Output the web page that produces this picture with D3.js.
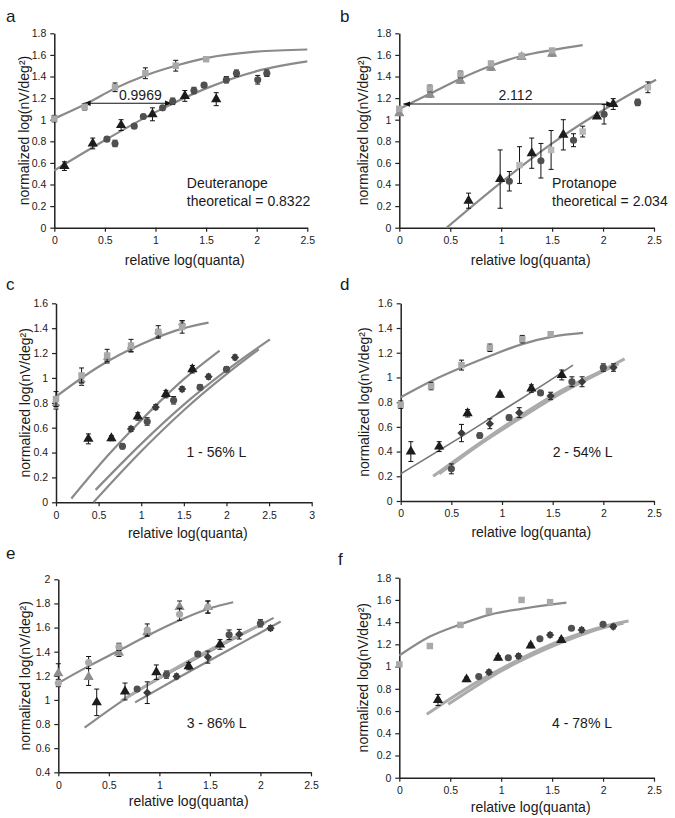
<!DOCTYPE html>
<html><head><meta charset="utf-8">
<script src="https://cdn.jsdelivr.net/npm/d3@7"></script>
<style>
body{margin:0;background:#fff}
svg{display:block}
text{font-family:"Liberation Sans",Arial,sans-serif;fill:#1a1a1a}
</style>
</head><body>
<svg id="chart" width="675" height="818"></svg>
<script>
// ---------------- DATA ----------------
const xTicks25 = [0, 0.5, 1, 1.5, 2, 2.5];
const xTicks3 = [0, 0.5, 1, 1.5, 2, 2.5, 3];
const yTicks18 = [0, 0.2, 0.4, 0.6, 0.8, 1, 1.2, 1.4, 1.6, 1.8];
const yTicks16 = [0, 0.2, 0.4, 0.6, 0.8, 1, 1.2, 1.4, 1.6];
const yTicksE = [0.4, 0.6, 0.8, 1, 1.2, 1.4, 1.6, 1.8, 2];
const panelLetters = ["a", "b", "c", "d", "e", "f"];
const xTitle = "relative log(quanta)";
const yTitle = "normalized log(nV/deg²)";
const noteLines = [["Deuteranope", "theoretical = 0.8322"], ["Protanope", "theoretical = 2.034"],
                   ["1 - 56% L"], ["2 - 54% L"], ["3 - 86% L"], ["4 - 78% L"]];
const arrowLabels = ["0.9969", "2.112"];

// panel a  [x, y, err]
const aCurveHi = [[0,1.01],[0.3,1.14],[0.6,1.29],[0.9,1.41],[1.2,1.50],[1.5,1.57],[2.0,1.63],[2.5,1.65]];
const aCurveLo = [[0,0.53],[0.5,0.81],[1.0,1.07],[1.5,1.29],[2.0,1.45],[2.5,1.54]];
const aSquares = [[0,1.01,0.03],[0.3,1.12,0.03],[0.6,1.30,0.04],[0.9,1.43,0.05],[1.2,1.50,0.05],[1.5,1.56,0.02]];
const aTriangles = [[0.1,0.57,0.04],[0.38,0.78,0.05],[0.66,0.95,0.05],[0.97,1.05,0.06],[1.29,1.22,0.05],[1.6,1.19,0.06]];
const aCircles = [[0.52,0.82,0.02],[0.6,0.78,0.03],[0.79,0.94,0.02],[0.88,1.03,0.02],[1.07,1.11,0.02],[1.17,1.17,0.03],
                  [1.38,1.27,0.03],[1.48,1.32,0.02],[1.7,1.37,0.03],[1.8,1.43,0.03],[2.01,1.37,0.04],[2.1,1.43,0.03]];
const aArrow = [[0.29,1.152],[1.163,1.152]];

// panel b
const bCurveHi = [[0,1.10],[0.3,1.24],[0.6,1.38],[0.9,1.50],[1.2,1.59],[1.5,1.645],[1.8,1.69]];
const bCurveLo = [[0.465,0],[1.0,0.42],[1.5,0.78],[2.1,1.145],[2.52,1.37]];
const bSquaresHi = [[0,1.10,0.02],[0.3,1.29,0.03],[0.6,1.42,0.03],[0.9,1.52,0.02],[1.2,1.59,0.02],[1.5,1.64,0.02]];
const bTrianglesHi = [[0,1.06,0.02],[0.3,1.23,0.02],[0.6,1.36,0.02],[0.9,1.48,0.02],[1.2,1.58,0.02],[1.5,1.61,0.02]];
const bTriangles = [[0.68,0.25,0.07],[0.99,0.45,0.27],[1.3,0.69,0.14],[1.61,0.86,0.14],[1.94,1.03,0.01],[2.1,1.145,0.05]];
const bCircles = [[1.08,0.43,0.09],[1.39,0.62,0.16],[1.71,0.81,0.06],[2.01,1.05,0.09],[2.34,1.16,0.03]];
const bSquaresLo = [[1.18,0.58,0.17],[1.49,0.72,0.18],[1.8,0.89,0.05],[2.44,1.30,0.05]];
const bArrow = [[0.04,1.145],[2.1,1.145]];

// panel c
const cCurveHi = [[0,0.85],[0.5,1.09],[1.0,1.27],[1.5,1.40],[1.79,1.445]];
const cLine1 = [[0.18,0.03],[0.6,0.37],[1.0,0.66],[1.5,0.99],[1.92,1.22]];
const cLine2 = [[0.465,0.10],[1.0,0.47],[1.5,0.785],[2.0,1.06],[2.51,1.31]];
const cLine3 = [[0.44,0.0],[1.0,0.41],[1.5,0.74],[2.0,1.03],[2.38,1.23]];
const cSquaresHi = [[0,0.83,0.06],[0.3,1.02,0.06],[0.6,1.18,0.05],[0.88,1.26,0.05],[1.2,1.37,0.05],[1.48,1.41,0.05]];
const cGrayHi = [[0,0.78,0.03],[0.3,0.97,0.03],[0.6,1.15,0.03],[0.88,1.24,0.03],[1.2,1.36,0.03],[1.48,1.43,0.03]];
const cTriangles = [[0.38,0.51,0.04],[0.65,0.515,0.02],[0.96,0.69,0.03],[1.29,0.87,0.03],[1.6,1.07,0.03]];
const cCircles = [[0.78,0.45,0.02],[1.07,0.65,0.03],[1.38,0.82,0.03],[1.69,0.925,0.02],[2.0,1.07,0.02]];
const cDiamonds = [[0.88,0.59,0.02],[1.17,0.765,0.02],[1.48,0.91,0.02],[1.79,1.01,0.02],[2.1,1.165,0.02]];

// panel d
const dCurveHi = [[0,0.84],[0.3,0.97],[0.6,1.08],[0.9,1.18],[1.2,1.27],[1.5,1.33],[1.8,1.36]];
const dLineA = [[0,0.22],[0.5,0.47],[1.0,0.73],[1.5,0.99],[1.7,1.10]];
const dLineB = [[0.32,0.20],[0.8,0.48],[1.2,0.70],[1.6,0.90],[2.0,1.06],[2.21,1.15]];
const dLineC = [[0.38,0.22],[0.8,0.47],[1.2,0.68],[1.6,0.88],[2.0,1.05],[2.15,1.11]];
const dSquaresHi = [[0,0.78,0.03],[0.3,0.93,0.03],[0.6,1.10,0.04],[0.88,1.24,0.03],[1.2,1.31,0.03],[1.48,1.35,0.02]];
const dTriangles = [[0.1,0.40,0.08],[0.38,0.44,0.04],[0.66,0.71,0.03],[0.98,0.86,0.02],[1.29,0.91,0.03],[1.59,1.02,0.04]];
const dCircles = [[0.5,0.26,0.04],[0.78,0.53,0.02],[1.07,0.675,0.02],[1.38,0.875,0.02],[1.69,0.965,0.04],[2.0,1.08,0.03]];
const dDiamonds = [[0.6,0.55,0.07],[0.88,0.625,0.04],[1.17,0.715,0.04],[1.48,0.85,0.03],[1.79,0.965,0.04],[2.1,1.08,0.03]];

// panel e
const eCurveHi = [[0,1.14],[0.3,1.28],[0.6,1.41],[0.9,1.54],[1.2,1.66],[1.5,1.76],[1.73,1.81]];
const eLine1 = [[0.26,0.77],[0.7,1.03],[1.2,1.27],[1.7,1.49],[2.13,1.68]];
const eLineG = [[0.62,0.99],[1.2,1.28],[1.7,1.50],[2.05,1.64]];
const eLine3 = [[0.76,0.98],[1.2,1.19],[1.7,1.42],[2.2,1.65]];
const eGrayHi1 = [[0,1.14,0.03],[0.3,1.31,0.05],[0.6,1.44,0.03],[0.88,1.58,0.05],[1.2,1.71,0.05],[1.48,1.77,0.05]];
const eGrayHi2 = [[0,1.22,0.08],[0.3,1.19,0.07],[0.6,1.39,0.03],[0.88,1.56,0.03],[1.2,1.77,0.05],[1.48,1.77,0.05]];
const eTriangles = [[0.38,0.98,0.11],[0.66,1.07,0.07],[0.97,1.23,0.06],[1.29,1.28,0.03],[1.6,1.46,0.04]];
const eCircles = [[0.78,1.09,0.01],[1.07,1.21,0.03],[1.38,1.38,0.02],[1.69,1.54,0.04],[2.0,1.635,0.03]];
const eDiamonds = [[0.88,1.06,0.09],[1.17,1.195,0.02],[1.48,1.355,0.05],[1.79,1.545,0.04],[2.1,1.595,0.02]];

// panel f
const fCurveHi = [[0,1.10],[0.3,1.27],[0.6,1.38],[0.9,1.47],[1.2,1.52],[1.5,1.56],[1.64,1.575]];
const fLineA = [[0.27,0.57],[0.5,0.71],[0.8,0.88],[1.0,0.98],[1.3,1.12],[1.6,1.24],[2.0,1.36],[2.25,1.41]];
const fLineB = [[0.48,0.66],[0.8,0.85],[1.0,0.96],[1.3,1.10],[1.6,1.22],[2.0,1.35],[2.2,1.39]];
const fSquaresHi = [[0,1.02,0],[0.3,1.185,0],[0.6,1.375,0],[0.88,1.50,0.02],[1.2,1.60,0.02],[1.48,1.58,0.02]];
const fTriangles = [[0.38,0.70,0.05],[0.66,0.885,0.02],[0.97,1.08,0.02],[1.29,1.19,0.02],[1.59,1.24,0.02]];
const fCircles = [[0.78,0.91,0],[1.07,1.08,0],[1.38,1.25,0],[1.69,1.345,0],[2.0,1.38,0]];
const fDiamonds = [[0.88,0.95,0.02],[1.17,1.095,0.02],[1.48,1.285,0.02],[1.79,1.33,0.02],[2.1,1.36,0.02]];

// ---------------- STYLE ----------------
const CURVE = "#8a8a8a", CURVE_LIGHT = "#ababab";
const LIGHT = "#a9a9a9", MID = "#8e8e8e", BLACK = "#1c1c1c", DARK = "#505050", DIAM = "#3c3c3c";
const SQ = {sym: d3.symbolSquare, size: 42}, TRI = {sym: d3.symbolTriangle, size: 46},
      CIR = {sym: d3.symbolCircle, size: 40}, DIA = {sym: d3.symbolSquare, size: 34, rot: 45};

const svg = d3.select("#chart");
const fmt = d => String(+d.toFixed(2));

defsArrow();
function defsArrow() {
  const defs = svg.append("defs");
  ["s", "e"].forEach(k => {
    defs.append("marker").attr("id", "ah-" + k)
      .attr("viewBox", "0 0 10 10").attr("refX", 10).attr("refY", 5)
      .attr("markerWidth", 7).attr("markerHeight", 7)
      .attr("orient", k === "s" ? "auto-start-reverse" : "auto")
      .attr("markerUnits", "userSpaceOnUse")
      .append("path").attr("d", "M0,1 L10,5 L0,9 Z").attr("fill", "#111");
  });
}

function panel(cfg) {
  const x = d3.scaleLinear().domain(cfg.xd).range(cfg.xr);
  const y = d3.scaleLinear().domain(cfg.yd).range(cfg.yr);
  const g = svg.append("g");

  // axes
  const ax = g.append("g").attr("transform", `translate(0,${cfg.yr[0]})`)
    .call(d3.axisBottom(x).tickValues(cfg.xt).tickFormat(fmt).tickSize(4).tickSizeOuter(0).tickPadding(5));
  const ay = g.append("g").attr("transform", `translate(${cfg.xr[0]},0)`)
    .call(d3.axisLeft(y).tickValues(cfg.yt).tickFormat(fmt).tickSize(4).tickSizeOuter(0).tickPadding(4));
  [ax, ay].forEach(a => {
    a.selectAll("text").attr("font-size", 10.5).attr("font-family", "Liberation Sans, Arial, sans-serif").attr("fill", "#222");
    a.select(".domain").attr("stroke", "#222").attr("stroke-width", 1.5);
    a.selectAll(".tick line").attr("stroke", "#222").attr("stroke-width", 1.2);
  });

  // titles
  g.append("text").attr("x", (cfg.xr[0] + cfg.xr[1]) / 2 + 4).attr("y", cfg.xTitleY)
    .attr("text-anchor", "middle").attr("font-size", 14).text(xTitle);
  g.append("text").attr("transform", `translate(${cfg.yTitleX},${(cfg.yr[0] + cfg.yr[1]) / 2}) rotate(-90)`)
    .attr("text-anchor", "middle").attr("font-size", 14).text(yTitle);
  g.append("text").attr("x", cfg.letter[0]).attr("y", cfg.letter[1]).attr("font-size", 17).text(cfg.letterText);

  // curves
  const line = d3.line().x(d => x(d[0])).y(d => y(d[1])).curve(d3.curveMonotoneX);
  cfg.curves.forEach(c => {
    g.append("path").attr("d", line(c.data)).attr("fill", "none")
      .attr("stroke", c.color || CURVE).attr("stroke-width", c.w || 2.2);
  });

  // arrow
  if (cfg.arrow) {
    g.append("line").attr("x1", x(cfg.arrow[0][0])).attr("x2", x(cfg.arrow[1][0]))
      .attr("y1", y(cfg.arrow[0][1])).attr("y2", y(cfg.arrow[1][1]))
      .attr("stroke", "#111").attr("stroke-width", 1.1)
      .attr("marker-start", "url(#ah-s)").attr("marker-end", "url(#ah-e)");
    g.append("text").attr("x", x(cfg.arrowLabel[0])).attr("y", y(cfg.arrowLabel[1]))
      .attr("text-anchor", "middle").attr("font-size", 14).text(cfg.arrowText);
  }

  // series
  cfg.series.forEach(s => {
    const sg = g.append("g");
    s.data.forEach(d => {
      if (d[2]) {
        const y1 = y(d[1] + d[2]), y2 = y(d[1] - d[2]), cx = x(d[0]);
        sg.append("path").attr("d", `M${cx},${y1}V${y2}M${cx - 2.5},${y1}H${cx + 2.5}M${cx - 2.5},${y2}H${cx + 2.5}`)
          .attr("stroke", "#111").attr("stroke-width", 1).attr("fill", "none");
      }
    });
    sg.selectAll("path.m").data(s.data).enter().append("path").attr("class", "m")
      .attr("transform", d => `translate(${x(d[0])},${y(d[1])})` + (s.m.rot ? ` rotate(${s.m.rot})` : ""))
      .attr("d", d3.symbol().type(s.m.sym).size(s.m.size))
      .attr("fill", s.fill);
  });

  // notes
  cfg.notes.forEach((t, i) => {
    g.append("text").attr("x", x(cfg.notePos[0])).attr("y", y(cfg.notePos[1]) + i * 18.5)
      .attr("font-size", 14).text(t);
  });
}

panel({ letterText: panelLetters[0], letter: [6, 22], xd: [0, 2.5], xr: [54.3, 307.3], yd: [0, 1.8], yr: [227.7, 33.3],
  xt: xTicks25, yt: yTicks18, xTitleY: 265, yTitleX: 29,
  curves: [{data: aCurveHi}, {data: aCurveLo}],
  series: [{data: aSquares, m: SQ, fill: LIGHT}, {data: aCircles, m: CIR, fill: DARK}, {data: aTriangles, m: TRI, fill: BLACK}],
  arrow: aArrow, arrowLabel: [0.85, 1.185], arrowText: arrowLabels[0],
  notes: noteLines[0], notePos: [1.31, 0.37] });

panel({ letterText: panelLetters[1], letter: [340, 22], xd: [0, 2.5], xr: [399.3, 654], yd: [0, 1.8], yr: [227.7, 33.3],
  xt: xTicks25, yt: yTicks18, xTitleY: 265, yTitleX: 368,
  curves: [{data: bCurveHi}, {data: bCurveLo}],
  series: [{data: bTrianglesHi, m: TRI, fill: MID}, {data: bSquaresHi, m: SQ, fill: LIGHT},
           {data: bSquaresLo, m: SQ, fill: "#b8b8b8"}, {data: bCircles, m: CIR, fill: DARK}, {data: bTriangles, m: TRI, fill: BLACK}],
  arrow: bArrow, arrowLabel: [1.14, 1.185], arrowText: arrowLabels[1],
  notes: noteLines[1], notePos: [1.50, 0.37] });

panel({ letterText: panelLetters[2], letter: [6, 290], xd: [0, 3], xr: [56, 311.7], yd: [0, 1.6], yr: [502.3, 303.3],
  xt: xTicks3, yt: yTicks16, xTitleY: 538, yTitleX: 30,
  curves: [{data: cCurveHi}, {data: cLine1}, {data: cLine2}, {data: cLine3}],
  series: [{data: cGrayHi, m: DIA, fill: MID}, {data: cSquaresHi, m: SQ, fill: LIGHT},
           {data: cCircles, m: CIR, fill: DARK}, {data: cDiamonds, m: DIA, fill: DIAM}, {data: cTriangles, m: TRI, fill: BLACK}],
  notes: noteLines[2], notePos: [1.53, 0.367] });

panel({ letterText: panelLetters[3], letter: [340, 290], xd: [0, 2.5], xr: [400.7, 654], yd: [0, 1.6], yr: [501, 303.3],
  xt: xTicks25, yt: yTicks16, xTitleY: 537, yTitleX: 369,
  curves: [{data: dCurveHi}, {data: dLineA, color: "#777", w: 1.6}, {data: dLineB, color: CURVE_LIGHT, w: 3}, {data: dLineC, color: CURVE_LIGHT, w: 3}],
  series: [{data: dSquaresHi, m: SQ, fill: LIGHT}, {data: dCircles, m: CIR, fill: DARK},
           {data: dDiamonds, m: DIA, fill: DIAM}, {data: dTriangles, m: TRI, fill: BLACK}],
  notes: noteLines[3], notePos: [1.50, 0.36] });

panel({ letterText: panelLetters[4], letter: [6, 559], xd: [0, 2.5], xr: [58.3, 311], yd: [0.4, 2], yr: [772.3, 579.3],
  xt: xTicks25, yt: yTicksE, xTitleY: 806, yTitleX: 30,
  curves: [{data: eCurveHi}, {data: eLine1}, {data: eLineG, color: CURVE_LIGHT, w: 3}, {data: eLine3}],
  series: [{data: eGrayHi2, m: TRI, fill: MID}, {data: eGrayHi1, m: CIR, fill: LIGHT},
           {data: eCircles, m: CIR, fill: DARK}, {data: eDiamonds, m: DIA, fill: DIAM}, {data: eTriangles, m: TRI, fill: BLACK}],
  notes: noteLines[4], notePos: [1.27, 0.765] });

panel({ letterText: panelLetters[5], letter: [338, 565], xd: [0, 2.5], xr: [399.3, 654], yd: [0, 1.8], yr: [777.7, 577.7],
  xt: xTicks25, yt: yTicks18, xTitleY: 812, yTitleX: 368,
  curves: [{data: fCurveHi}, {data: fLineA, color: CURVE_LIGHT, w: 3}, {data: fLineB, color: CURVE_LIGHT, w: 3}],
  series: [{data: fSquaresHi, m: SQ, fill: LIGHT}, {data: fCircles, m: CIR, fill: DARK},
           {data: fDiamonds, m: DIA, fill: DIAM}, {data: fTriangles, m: TRI, fill: BLACK}],
  notes: noteLines[5], notePos: [1.50, 0.445] });
</script>
</body></html>
